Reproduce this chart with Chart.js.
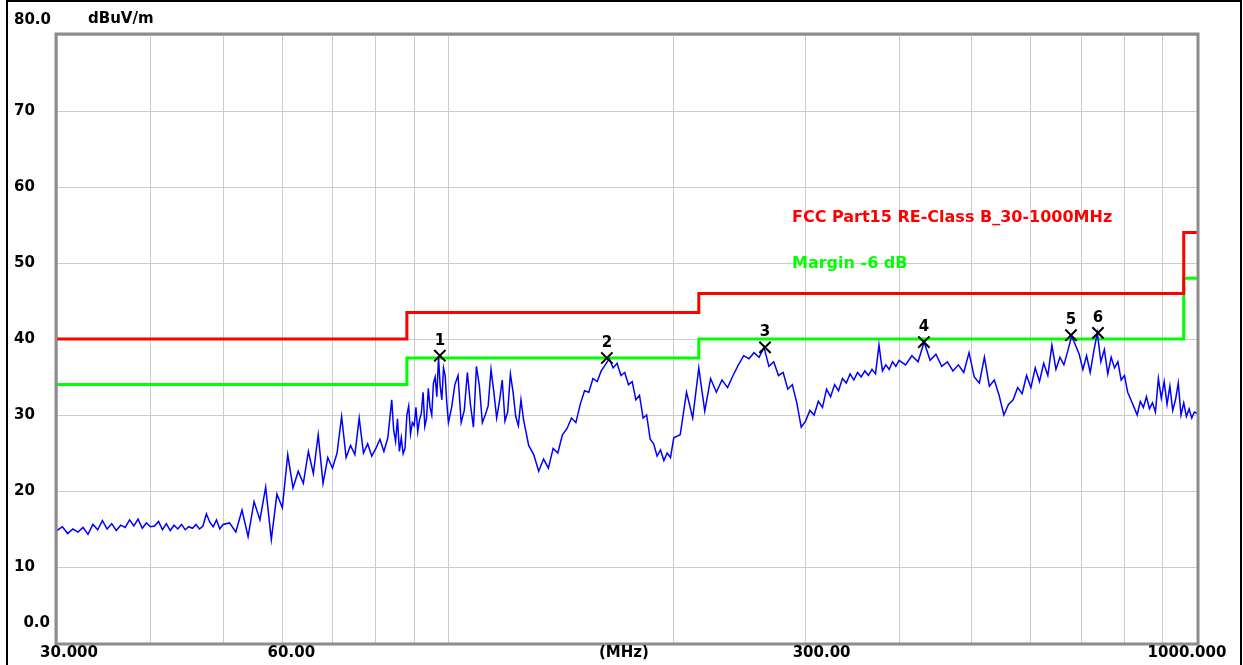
<!DOCTYPE html>
<html>
<head>
<meta charset="utf-8">
<title>Radiated emission 30-1000 MHz</title>
<script src="https://cdn.jsdelivr.net/npm/chart.js@4.4.1/dist/chart.umd.min.js"></script>
<style>
  html, body { margin: 0; padding: 0; background: #fff; }
  #wrap { position: relative; width: 1243px; height: 665px; overflow: hidden; }
  #frame { position: absolute; left: 6px; top: 0; width: 1236px; height: 680px; border: 2px solid #000; border-bottom: none; box-sizing: border-box; pointer-events: none; }
</style>
</head>
<body>
<div id="wrap">
  <canvas id="emi-chart" width="1243" height="665"></canvas>
  <div id="frame"></div>
</div>
<script>
// sweep, MHz
const sweepFreqs = [
    30, 30.5, 31, 31.5, 32, 32.5, 33, 33.5, 34, 34.5,
    35, 35.5, 36, 36.5, 37, 37.5, 38, 38.5, 39, 39.5,
    40, 40.5, 41, 41.5, 42, 42.5, 43, 43.5, 44, 44.5,
    45, 45.5, 46, 46.5, 47, 47.5, 48, 48.5, 49, 49.5,
    50,
    51, 52, 53, 54, 55, 56, 57, 58, 59, 60,
    61, 62, 63, 64, 65, 66, 67, 68, 69, 70,
    71, 72, 73, 74, 75, 76, 77, 78, 79, 80,
    81, 82, 83, 84, 84.5, 85, 85.5, 86, 86.5, 87,
    87.5, 88, 88.5, 89, 89.5, 90, 90.5, 91, 91.5, 92,
    92.5, 93, 93.5, 94, 94.5, 95, 95.5, 96, 96.5, 97,
    97.5, 98, 98.5, 99, 99.5, 100,
    101, 102, 103, 104, 105, 106, 107, 108, 109, 110,
    111, 112, 113, 114, 115, 116, 117, 118, 119, 120,
    121, 122, 123, 124, 125, 126, 128, 130, 132, 134,
    136, 138, 140, 142, 144, 146, 148, 150, 152, 154,
    156, 158, 160, 162, 164, 166, 168, 170, 172, 174,
    176, 178, 180, 182, 184, 186, 188, 190, 192, 194,
    196, 198, 200,
    204, 208, 212, 216, 220, 224, 228, 232, 236, 240,
    244, 248, 252, 256, 260, 264, 268, 272, 276, 280,
    284, 288, 292, 296, 300, 304, 308, 312, 316, 320,
    324, 328, 332, 336, 340, 344, 348, 352, 356, 360,
    364, 368, 372, 376, 380, 384, 388, 392, 396, 400,
    408, 416, 424, 432, 440, 448, 456, 464, 472, 480,
    488, 496, 504, 512, 520, 528, 536, 544, 552, 560,
    568, 576, 584, 592, 600, 608, 616, 624, 632, 640,
    648, 656, 664, 672, 680, 688, 696, 704, 712, 720,
    728, 736, 744, 752, 760, 768, 776, 784, 792, 800,
    808, 816, 824, 832, 840, 848, 856, 864, 872, 880,
    888, 896, 904, 912, 920, 928, 936, 944, 952, 960,
    968, 976, 984, 992, 1000
];
// measured level, dBuV/m
const sweepLevels = [
    14.8, 15.3, 14.4, 15.0, 14.6, 15.2, 14.3, 15.6, 14.9, 16.1,
    15.0, 15.7, 14.8, 15.5, 15.2, 16.2, 15.4, 16.3, 15.1, 15.8,
    15.3, 15.4, 16.0, 14.9, 15.7, 14.8, 15.5, 15.0, 15.6, 14.9,
    15.3, 15.1, 15.6, 15.0, 15.4, 17.0, 15.9, 15.3, 16.2, 15.0,
    15.6,
    15.8, 14.6, 17.5, 14.0, 18.6, 16.2, 20.5, 13.6, 19.6, 17.8,
    24.8, 20.4, 22.6, 21.0, 25.2, 22.3, 27.4, 21.0, 24.4, 23.0,
    25.0, 29.8, 24.4, 26.0, 24.8, 29.6, 25.0, 26.2, 24.6, 25.6,
    26.8, 25.2, 27.0, 32.0, 28.0, 26.5, 29.5, 25.2, 27.0, 24.9,
    25.6, 30.0, 31.2, 27.5, 29.0, 28.6, 31.0, 27.8, 29.4, 30.2,
    33.0, 28.5, 29.6, 33.5, 31.0, 30.0, 34.2, 35.0, 32.4, 37.6,
    33.8, 32.0, 36.2, 35.2, 31.6, 29.0,
    31.0, 34.0, 35.2, 29.0, 30.6, 35.6, 31.4, 28.4, 36.4, 33.8,
    29.0, 30.0, 31.2, 36.0, 33.0, 29.6, 31.8, 34.6, 29.2, 30.4,
    35.4, 33.0, 29.8, 28.6, 32.0, 29.4, 26.0, 24.8, 22.6, 24.2,
    23.0, 25.6, 25.0, 27.4, 28.2, 29.6, 29.0, 31.4, 33.2, 33.0,
    34.8, 34.4, 35.8, 36.6, 37.4, 36.2, 36.8, 35.2, 35.6, 34.0,
    34.4, 32.0, 32.6, 29.6, 30.0, 26.8, 26.2, 24.6, 25.4, 24.0,
    25.0, 24.4, 27.0,
    27.4, 33.0, 29.6, 36.2, 30.5, 34.8, 33.0, 34.6, 33.6, 35.2,
    36.6, 37.8, 37.4, 38.2, 37.6, 38.9, 36.4, 37.0, 35.2, 35.6,
    33.4, 34.0, 31.6, 28.4, 29.2, 30.6, 30.0, 31.8, 31.0, 33.4,
    32.4, 34.0, 33.2, 34.8, 34.2, 35.4, 34.6, 35.6, 35.0, 35.8,
    35.2, 36.0, 35.4, 39.2, 35.8, 36.6, 36.0, 37.0, 36.4, 37.2,
    36.6, 37.8, 37.0, 39.6, 37.2, 38.0, 36.4, 37.0, 35.8, 36.6,
    35.6, 38.2, 35.0, 34.2, 37.6, 33.8, 34.6, 32.6, 30.0, 31.4,
    32.0, 33.6, 32.8, 35.2, 33.6, 36.2, 34.4, 36.8, 35.2, 39.2,
    36.0, 37.6, 36.6, 38.4, 40.4, 39.2, 38.0, 36.0, 37.8, 35.6,
    38.4, 40.8, 37.0, 38.6, 35.4, 37.6, 36.2, 37.0, 34.6, 35.2,
    33.0, 32.0, 31.0, 30.0, 31.8, 31.0, 32.4, 30.8, 31.6, 30.4,
    34.8, 32.2, 34.4, 31.4, 33.8, 30.6, 32.0, 34.2, 30.0, 31.6,
    29.8, 30.8, 29.6, 30.4, 30.2
];

// FCC Part 15 class B limit and -6 dB margin (step corners)
const limitFreqs = [30, 88, 88, 216, 216, 960, 960, 1000];
const fccLimit = [40, 40, 43.5, 43.5, 46, 46, 54, 54];
const marginLimit = [34, 34, 37.5, 37.5, 40, 40, 48, 48];

// peak markers
const markerIds = ['1', '2', '3', '4', '5', '6'];
const markerFreqs = [97.4, 162.8, 264.8, 431.7, 678.7, 737.5];
const markerLevels = [37.8, 37.5, 38.9, 39.6, 40.5, 40.8];

// axes
const gridFreqs = [30, 40, 50, 60, 70, 80, 90, 100, 200, 300, 400, 500, 600, 700, 800, 900, 1000];
const xLabelFreqs = [30, 60, 170, 300, 1000];
const xLabels = ['30.000', '60.00', '(MHz)', '300.00', '1000.000'];
const yLabelValues = [80, 70, 60, 50, 40, 30, 20, 10, 0];
const yLabels = ['80.0', '70', '60', '50', '40', '30', '20', '10', '0.0'];
const yUnit = 'dBuV/m';
const legendLines = ['FCC Part15 RE-Class B_30-1000MHz', 'Margin -6 dB'];

const FONT = 'bold 15px "DejaVu Sans"';

const toPoints = (xs, ys) => xs.map((v, i) => ({ x: v, y: ys[i] }));

const textPlugin = {
    id: 'emiText',
    afterDatasetsDraw(chart) {
        const { ctx, chartArea: a, scales } = chart;
        const xs = scales.x, ys = scales.y;
        ctx.save();

        // plot frame
        ctx.strokeStyle = '#8c8c8c';
        ctx.lineWidth = 3;
        ctx.strokeRect(a.left - 1, a.top - 1, a.right - a.left + 2, a.bottom - a.top + 2);

        ctx.font = FONT;
        ctx.fillStyle = '#000';
        ctx.textBaseline = 'middle';

        // y labels
        yLabelValues.forEach((v, i) => {
            let py = ys.getPixelForValue(v);
            if (v === 80) {
                ctx.textAlign = 'left';
                ctx.fillText(yLabels[i], 14, py - 15);
            } else if (v === 0) {
                ctx.textAlign = 'right';
                ctx.fillText(yLabels[i], 50, py - 20);
            } else {
                ctx.textAlign = 'left';
                ctx.fillText(yLabels[i], 14, py);
            }
        });
        ctx.textAlign = 'left';
        ctx.fillText(yUnit, 88, 19);

        // x labels
        const xOffsets = [12, 9, 3, 16, -10];
        ctx.textAlign = 'center';
        xLabelFreqs.forEach((f, i) => {
            ctx.fillText(xLabels[i], xs.getPixelForValue(f) + xOffsets[i], a.bottom + 10);
        });

        // legend text
        ctx.font = 'bold 16px "DejaVu Sans"';
        ctx.textAlign = 'left';
        ctx.fillStyle = '#ff0000';
        ctx.fillText(legendLines[0], 792, 218);
        ctx.fillStyle = '#00ff00';
        ctx.fillText(legendLines[1], 792, 264);

        // marker numbers
        ctx.font = FONT;
        ctx.fillStyle = '#000';
        ctx.textAlign = 'center';
        chart.getDatasetMeta(0).data.forEach((pt, i) => {
            ctx.fillText(markerIds[i], pt.x, pt.y - 15);
        });
        ctx.restore();
    }
};

const chart = new Chart(document.getElementById('emi-chart').getContext('2d'), {
    type: 'line',
    data: {
        datasets: [
            {
                label: 'Markers',
                data: toPoints(markerFreqs, markerLevels),
                showLine: false,
                pointStyle: 'crossRot',
                pointRadius: 8,
                borderColor: '#000',
                borderWidth: 2
            },
            {
                label: 'Level',
                data: toPoints(sweepFreqs, sweepLevels),
                borderColor: '#0000ff',
                borderWidth: 1.5,
                pointRadius: 0,
                tension: 0
            },
            {
                label: legendLines[0],
                data: toPoints(limitFreqs, fccLimit),
                borderColor: '#ff0000',
                borderWidth: 3,
                pointRadius: 0
            },
            {
                label: legendLines[1],
                data: toPoints(limitFreqs, marginLimit),
                borderColor: '#00ff00',
                borderWidth: 3,
                pointRadius: 0
            }
        ]
    },
    options: {
        responsive: false,
        animation: false,
        devicePixelRatio: 1,
        layout: { padding: { left: 57, right: 46, top: 35, bottom: 22 } },
        scales: {
            x: {
                type: 'logarithmic',
                min: 30,
                max: 1000,
                afterBuildTicks: (scale) => { scale.ticks = gridFreqs.map(v => ({ value: v })); },
                ticks: { display: false },
                grid: { color: '#cccccc', lineWidth: 1, drawTicks: false },
                border: { display: false }
            },
            y: {
                min: 0,
                max: 80,
                ticks: { display: false, stepSize: 10 },
                grid: { color: '#cccccc', lineWidth: 1, drawTicks: false },
                border: { display: false }
            }
        },
        plugins: {
            legend: { display: false },
            tooltip: { enabled: false }
        }
    },
    plugins: [textPlugin]
});
</script>
</body>
</html>
